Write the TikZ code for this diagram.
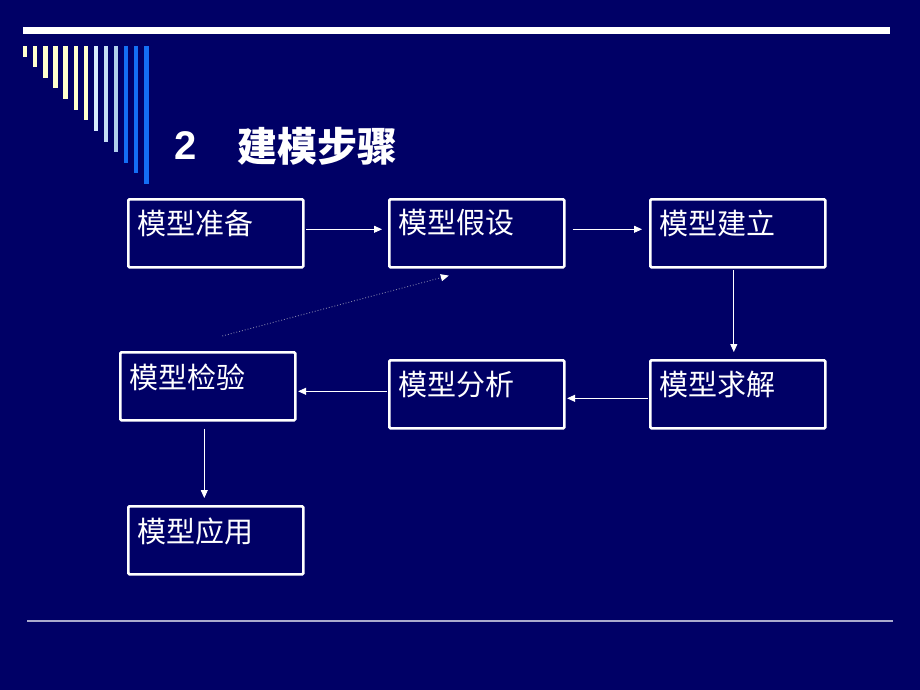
\documentclass[tikz,border=0pt]{standalone}
\usepackage{fontspec}
\setmainfont{Liberation Sans}
\newfontfamily\cjk{Noto Sans CJK SC}
\usetikzlibrary{arrows.meta,calc}
\definecolor{bg}{RGB}{0,0,102}
\definecolor{pyel}{RGB}{255,255,204}
\definecolor{lb1}{RGB}{214,234,255}
\definecolor{lb2}{RGB}{196,220,244}
\definecolor{lb3}{RGB}{176,206,236}
\definecolor{db}{RGB}{20,110,245}
\definecolor{rule}{RGB}{170,170,205}
\definecolor{dotc}{RGB}{130,130,170}
\tikzset{
  box/.style={draw=white, line width=2.6pt, rounded corners=1.2pt, minimum width=175pt, minimum height=68pt, anchor=north west, inner sep=0pt},
  lbl/.style={text=white, font=\cjk\fontsize{29}{29}\selectfont, anchor=west, inner sep=0pt},
  arr/.style={draw=white, line width=0.9pt, -{Triangle[width=7pt,length=8pt]}},
  dotarr/.style={draw=dotc, line width=0.9pt, dotted, -{Triangle[width=7pt,length=8pt,color=white,fill=white]}}
}
\begin{document}
\begin{tikzpicture}[x=1pt,y=-1pt]
\useasboundingbox (0,0) rectangle (920,690);
\fill[bg] (0,0) rectangle (920,690);
% top white bar
\fill[white] (23,27) rectangle (890,34);
% stripes
\foreach \i/\c in {0/pyel,1/pyel,2/pyel,3/pyel,4/pyel,5/pyel,6/pyel,7/lb1,8/lb2,9/lb3,10/db,11/db,12/db}{
  \pgfmathsetmacro\xx{23+10.1*\i}
  \pgfmathsetmacro\yy{56.7+10.6*\i}
  \fill[\c] (\xx,46) rectangle ({\xx+4.3},\yy);
}
% title
\node[text=white, font=\bfseries\fontsize{40}{40}\selectfont, anchor=base west, inner sep=0pt] (num) at (174,159) {2};
\node[text=white, font=\cjk\bfseries\fontsize{40}{40}\selectfont, anchor=west, inner sep=0pt] (title) at (237,146) {建模步骤};
% boxes
\node[box] (prep) at (127,198) {};
\node[box] (assume) at (388,198) {};
\node[box] (build) at (649,198) {};
\node[box] (solve) at (649,359) {};
\node[box] (analyze) at (388,359) {};
\node[box] (test) at (119,351) {};
\node[box] (apply) at (127,505) {};
\node[lbl] (tprep) at ($(prep.north west)+(10,25)$) {模型准备};
\node[lbl] (tassume) at ($(assume.north west)+(10,25)$) {模型假设};
\node[lbl] (tbuild) at ($(build.north west)+(10,25)$) {模型建立};
\node[lbl] (tsolve) at ($(solve.north west)+(10,26)$) {模型求解};
\node[lbl] (tanalyze) at ($(analyze.north west)+(10,26)$) {模型分析};
\node[lbl] (ttest) at ($(test.north west)+(10,26)$) {模型检验};
\node[lbl] (tapply) at ($(apply.north west)+(10,26)$) {模型应用};
% connectors
\draw[arr, shorten <=1.5pt, shorten >=6pt] ([yshift=4pt]prep.east) -- ([yshift=4pt]assume.west);
\draw[arr, shorten <=7pt, shorten >=7pt] ([yshift=4pt]assume.east) -- ([yshift=4pt]build.west);
\draw[arr, shorten <=1.5pt, shorten >=7pt] ([xshift=-4pt]build.south) -- ([xshift=-4pt]solve.north);
\draw[arr, shorten <=1.5pt, shorten >=1.5pt] ([yshift=-4pt]solve.west) -- ([yshift=-4pt]analyze.east);
\draw[arr, shorten <=1.5pt, shorten >=1.5pt] ([yshift=3pt]analyze.west) -- ([yshift=3pt]analyze.west -| test.east);
\draw[arr, shorten <=7pt, shorten >=7pt] ([xshift=-3.5pt]test.south) -- ([xshift=-3.5pt]test.south |- apply.north);
\coordinate (dstart) at ($(test.north)+(14.5,-15)$);
\draw[dotarr] (dstart) -- ($(assume.south)+(-28,7)$);
% bottom rule
\draw[rule, line width=1.4pt] (27,621) -- (893,621);
\end{tikzpicture}
\end{document}
